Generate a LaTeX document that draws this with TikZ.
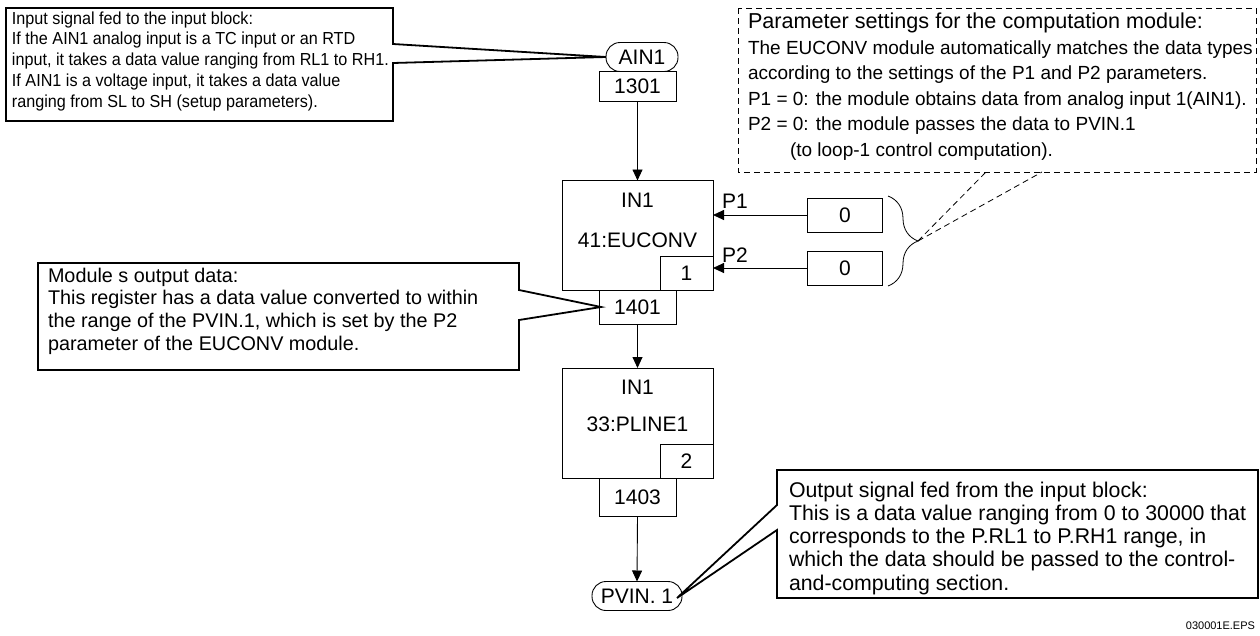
\documentclass[tikz,border=0pt]{standalone}
\usepackage{fontspec}
\setmainfont{Liberation Sans}
\newfontfamily\narrowsans{Liberation Sans}[FakeStretch=0.93]
\usetikzlibrary{arrows.meta,decorations.pathreplacing,calc}
\begin{document}
\begin{tikzpicture}[x=1pt,y=-1pt,
  every node/.style={inner sep=0pt,outer sep=0pt},
  lbl/.style={font=\fontsize{21}{25}\selectfont},
  reg/.style={draw,line width=0.9pt,minimum width=77pt,minimum height=30pt,font=\fontsize{21}{25}\selectfont},
  blk/.style={draw,line width=0.9pt,minimum width=151pt,minimum height=110pt},
  subbox/.style={draw,line width=0.9pt,minimum width=53pt,minimum height=34pt,font=\fontsize{21}{25}\selectfont},
  oval/.style={draw,line width=0.9pt,rounded corners=14pt,minimum height=29pt,font=\fontsize{21}{25}\selectfont},
  arr/.style={line width=0.9pt,-{Triangle[length=11pt,width=10pt]}},
  callout/.style={line width=1.8pt,line join=miter},
  note/.style={anchor=base west,align=left},
  dashline/.style={line width=0.8pt,dash pattern=on 6pt off 4pt}]
\useasboundingbox (0,0) rectangle (1260,635);

% main column
\node[oval,minimum width=72pt] (ain) at (642,57) {AIN1};
\node[reg] (r1301) at (637.5,86.5) {1301};
\node[blk] (eu) at (637.5,235.5) {};
\node[lbl] (eut) at (637.5,200) {IN1};
\node[lbl] (eun) at (637.5,240) {41:EUCONV};
\node[subbox] (eus) at (686.5,273) {1};
\node[reg,minimum height=34pt] (r1401) at (637.5,307) {1401};
\node[blk] (pl) at (637.5,423) {};
\node[lbl] (plt) at (637.5,387) {IN1};
\node[lbl] (pln) at (637.5,424) {33:PLINE1};
\node[subbox] (pls) at (686.5,461) {2};
\node[reg,minimum height=38pt] (r1403) at (637.5,497) {1403};
\node[oval,minimum width=90pt] (pv) at (637,596) {PVIN. 1};

\draw[arr] (r1301.south) -- (eu.north);
\draw[arr] (r1401.south) -- (pl.north);
\draw[arr] (r1403.south) -- (pv.north);

% parameters
\node[reg,minimum width=75pt,minimum height=34pt] (z1) at (845,215) {0};
\node[reg,minimum width=75pt,minimum height=34pt] (z2) at (845,268) {0};
\draw[arr] (z1.west) -- (z1.west -| eu.east);
\draw[arr] (z2.west) -- (z2.west -| eu.east);
\node[lbl,anchor=base west] (p1) at (722,208) {P1};
\node[lbl,anchor=base west] (p2) at (722,262) {P2};
\draw[line width=0.8pt,decorate,decoration={brace,amplitude=30pt,aspect=0.5}] (888,196) -- (888,286);
\coordinate (bt) at (918,241);

% dashed note
\draw[dashline] (738,8) rectangle (1256,172);
\coordinate (d1) at (986,172);
\coordinate (d2) at (1042,172);
\draw[dashline] (bt) -- (d1);
\draw[dashline] (bt) -- (d2);
\node[note,font=\fontsize{21.6}{25}\selectfont] (n0) at (748,28) {Parameter settings for the computation module:};
\node[note,font=\fontsize{19}{25.5}\selectfont] (n1) at (748,130.5) {The EUCONV module automatically matches the data types\\according to the settings of the P1 and P2 parameters.\\P1 = 0: the module obtains data from analog input 1(AIN1).\\P2 = 0: the module passes the data to PVIN.1};
\node[note,font=\fontsize{19}{25.5}\selectfont] (n2) at (790,156) {(to loop-1 control computation).};

% callout 1
\draw[callout] (393,44) -- (393,8) -- (6,8) -- (6,121) -- (393,121) -- (393,63) -- (ain.west) -- cycle;
\node[note,font=\narrowsans\fontsize{17.4}{20.8}\selectfont] (c1) at (12,107.2) {Input signal fed to the input block:\\If the AIN1 analog input is a TC input or an RTD\\input, it takes a data value ranging from RL1 to RH1.\\If AIN1 is a voltage input, it takes a data value\\ranging from SL to SH (setup parameters).};

% callout 2
\draw[callout] (519,290) -- (519,263) -- (38,263) -- (38,370) -- (519,370) -- (519,320) -- ($(r1401.west)+(2,0)$) -- cycle;
\node[note,font=\fontsize{19.8}{22.7}\selectfont] (c2) at (48,350.1) {Module s output data:\\This register has a data value converted to within\\the range of the PVIN.1, which is set by the P2\\parameter of the EUCONV module.};

% callout 3
\coordinate (t3) at (677,598);
\draw[callout] (777,505) -- (777,470) -- (1258,470) -- (1258,598) -- (777,598) -- (777,530) -- (t3) -- cycle;
\node[note,font=\fontsize{21.3}{23.3}\selectfont] (c3) at (789,590.2) {Output signal fed from the input block:\\This is a data value ranging from 0 to 30000 that\\corresponds to the P.RL1 to P.RH1 range, in\\which the data should be passed to the control-\\and-computing section.};

\node[anchor=base east,font=\fontsize{11}{13}\selectfont] (eps) at (1255,629) {030001E.EPS};
\end{tikzpicture}
\end{document}
